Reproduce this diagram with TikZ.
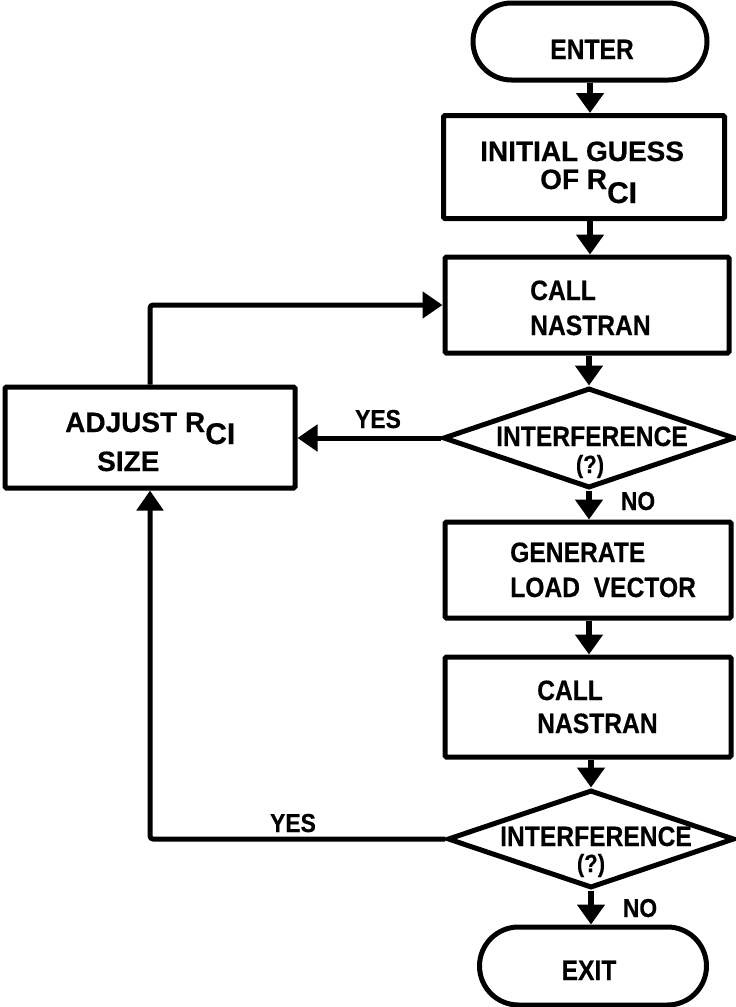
\documentclass[tikz,border=0pt]{standalone}
\usepackage{fontspec}
\setmainfont{Liberation Sans}[FakeStretch=0.88,BoldFeatures={FakeBold=0.4}]
\newfontfamily\wide{Liberation Sans}[BoldFeatures={FakeBold=0.4}]
\usetikzlibrary{shapes.geometric,shapes.misc,arrows.meta}
\newcommand\rci[1][-14pt]{R\raisebox{#1}{\fontsize{30}{30}\selectfont CI}}
\begin{document}
\begin{tikzpicture}[x=1pt,y=-1pt,
  box/.style={draw, line width=5pt, rounded corners=1.5pt, inner sep=0pt},
  term/.style={draw, rounded rectangle, line width=5pt, inner sep=0pt},
  dec/.style={draw, diamond, line width=5pt, inner sep=0pt},
  txt/.style={font=\fontsize{28}{30}\selectfont\bfseries, inner sep=0pt},
  wtxt/.style={font=\wide\fontsize{28}{30}\selectfont\bfseries, inner sep=0pt},
  qtxt/.style={font=\fontsize{25}{27}\selectfont\bfseries, inner sep=0pt},
  lab/.style={font=\fontsize{26}{28}\selectfont\bfseries, inner sep=0pt, anchor=base},
  varr/.style={line width=6.5pt, -{Triangle[length=20pt,width=27pt]}},
  larr/.style={line width=5pt, line join=round, rounded corners=3pt, -{Triangle[length=20pt,width=26pt]}}]
\useasboundingbox (0,0) rectangle (736,1007);
% shapes
\node[term, minimum width=234pt, minimum height=77pt] (enter) at (590,41.5) {};
\node[box, minimum width=281pt, minimum height=103pt] (init) at (584,167) {};
\node[box, minimum width=284pt, minimum height=96pt] (call1) at (587,305) {};
\node[dec, minimum width=292pt, minimum height=100pt] (d1) at (589,438) {};
\node[box, minimum width=290pt, minimum height=101pt] (adjust) at (150,437.5) {};
\node[box, minimum width=286pt, minimum height=96pt] (gen) at (588,570) {};
\node[box, minimum width=286pt, minimum height=100pt] (call2) at (588,707) {};
\node[dec, minimum width=287pt, minimum height=98pt] (d2) at (591,839) {};
\node[term, minimum width=227pt, minimum height=78pt] (exit) at (593,966) {};
% texts
\node[txt, anchor=base] (tenter) at (592,59) {ENTER};
\node[wtxt, anchor=base west] (tinit1) at (480,161) {INITIAL GUESS};
\node[wtxt, anchor=base west] (tinit2) at (540,189) {OF \rci};
\node[txt, anchor=base west] (tcall1a) at (530,300) {CALL};
\node[txt, anchor=base west] (tcall1b) at (530,335) {NASTRAN};
\node[wtxt, anchor=base west] (tadj1) at (65,432) {ADJUST \rci[-12pt]};
\node[wtxt, anchor=base west] (tadj2) at (97,471) {SIZE};
\node[txt, anchor=base] (td1a) at (592,446) {INTERFERENCE};
\node[qtxt, anchor=base] (td1b) at (590,473) {(?)};
\node[txt, anchor=base west] (tgen1) at (510,562) {GENERATE};
\node[txt, anchor=base west] (tgen2) at (510,597) {LOAD\ \ VECTOR};
\node[txt, anchor=base west] (tcall2a) at (537,700) {CALL};
\node[txt, anchor=base west] (tcall2b) at (537,733) {NASTRAN};
\node[txt, anchor=base] (td2a) at (596,846) {INTERFERENCE};
\node[qtxt, anchor=base] (td2b) at (591,872) {(?)};
\node[txt, anchor=base] (texit) at (589,980) {EXIT};
% labels
\node[lab] (yes1) at (378,428) {YES};
\node[lab] (no1) at (638,510) {NO};
\node[lab] (yes2) at (293,832) {YES};
\node[lab] (no2) at (640,917) {NO};
% connectors
\draw[varr] (enter.south) -- (enter.south |- init.north);
\draw[varr] (enter.south |- init.south) -- (enter.south |- call1.north);
\draw[varr] (d1.north |- call1.south) -- (d1.north);
\draw[varr] (d1.south) -- (d1.south |- gen.north);
\draw[varr] (d1.south |- gen.south) -- (d1.south |- call2.north);
\draw[varr] (d2.north |- call2.south) -- (d2.north);
\draw[varr] (d2.south) -- (d2.south |- exit.north);
\draw[larr] (adjust.north) |- (call1.west);
\draw[larr] (d1.west) -- (d1.west -| adjust.east);
\draw[larr] (d2.west) -| (adjust.south);
\end{tikzpicture}
\end{document}
